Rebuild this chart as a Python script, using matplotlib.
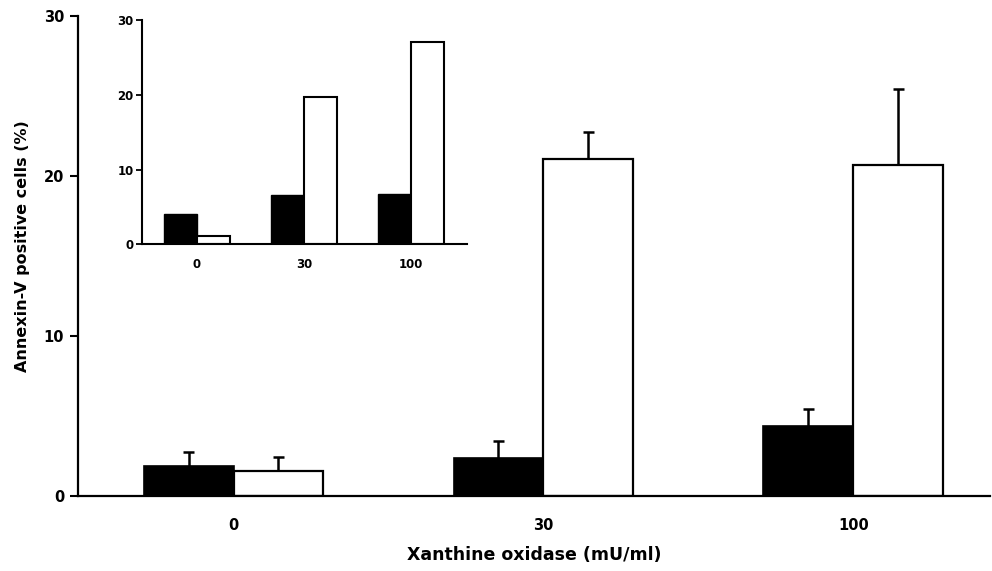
import numpy as np
import matplotlib
matplotlib.use('Agg')
import matplotlib.pyplot as plt

plt.rcParams['font.family'] = ['DejaVu Sans']
plt.rcParams['font.weight'] = 'bold'

# main panel data (% Annexin-V positive cells)
doses = ['0', '30', '100']
black_vals = [1.87, 2.33, 4.38]
black_err = [0.84, 1.11, 1.04]
white_vals = [1.56, 21.03, 20.66]
white_err = [0.83, 1.74, 4.76]

# inset data
inset_black = [4.1, 6.6, 6.7]
inset_white = [1.1, 19.7, 27.0]

yticks = [0, 10, 20, 30]

fig = plt.figure(figsize=(9.92, 5.71), dpi=100)
ax = fig.add_axes([0.0786, 0.1322, 0.919, 0.8398])

x = np.arange(len(doses))
w = 0.29
ax.bar(x - w/2, black_vals, w, color='black', edgecolor='black', lw=1.2, zorder=2)
ax.bar(x + w/2, white_vals, w, color='white', edgecolor='black', lw=1.6, zorder=2)

# upper-only error bars
cap = 0.018
for xs, v, e in [(x - w/2, black_vals, black_err), (x + w/2, white_vals, white_err)]:
    v = np.array(v)
    e = np.array(e)
    ax.vlines(xs, v, v + e, color='black', lw=1.8, zorder=3)
    ax.hlines(v + e, xs - cap, xs + cap, color='black', lw=1.8, zorder=3)

ax.set_xlim(-0.502, 2.44)
ax.set_ylim(0, 30)
ax.set_xticks(x)
ax.set_xticklabels(doses, fontsize=10.5, fontweight='bold')
ax.set_yticks(yticks)
ax.set_yticklabels([str(t) for t in yticks], fontsize=10.5, fontweight='bold')
ax.tick_params(axis='x', length=0, pad=16)
ax.tick_params(axis='y', length=6, width=1.5, pad=4)
for s in ['top', 'right']:
    ax.spines[s].set_visible(False)
for s in ['left', 'bottom']:
    ax.spines[s].set_linewidth(1.6)

ax.set_ylabel('Annexin-V positive cells (%)', fontsize=11.5, fontweight='bold')
ax.yaxis.set_label_coords(-0.053, 0.52)
ax.set_xlabel('Xanthine oxidase (mU/ml)', fontsize=12.5, fontweight='bold')
ax.xaxis.set_label_coords(0.5, -0.105)

# inset
ins = fig.add_axes([0.1431, 0.5722, 0.3273, 0.3928])
wi = 0.31
ins.bar(x - wi/2, inset_black, wi, color='black', edgecolor='black', lw=1.0, zorder=2)
ins.bar(x + wi/2, inset_white, wi, color='white', edgecolor='black', lw=1.5, zorder=2)
ins.set_xlim(-0.514, 2.52)
ins.set_ylim(0, 30)
ins.set_xticks(x)
ins.set_xticklabels(doses, fontsize=8.5, fontweight='bold')
ins.set_yticks(yticks)
ins.set_yticklabels([str(t) for t in yticks], fontsize=8.5, fontweight='bold')
ins.tick_params(axis='x', length=0, pad=10)
ins.tick_params(axis='y', length=4, width=1.3, pad=2)
for s in ['top', 'right']:
    ins.spines[s].set_visible(False)
for s in ['left', 'bottom']:
    ins.spines[s].set_linewidth(1.5)

fig.savefig('out.png', dpi=100)
